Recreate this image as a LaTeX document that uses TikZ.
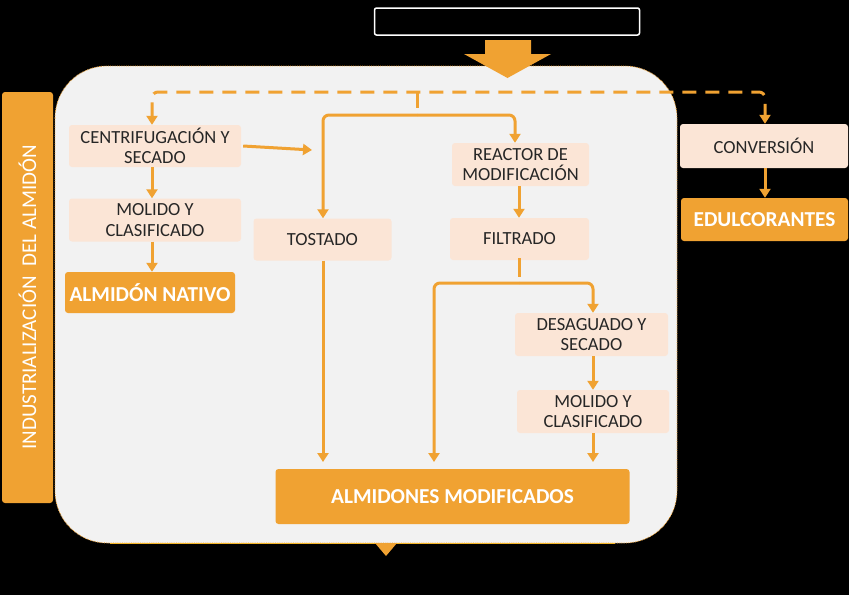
\documentclass[tikz,border=0pt]{standalone}
\usepackage{fontspec}
\setmainfont{Carlito}
\usetikzlibrary{arrows.meta}
\definecolor{orng}{HTML}{F0A232}
\definecolor{peach}{HTML}{FBE5D6}
\definecolor{panel}{HTML}{F2F2F2}
\tikzset{
  lbox/.style={fill=peach, rounded corners=3pt, inner sep=0pt, align=center, font=\fontsize{18.5}{20.5}\selectfont, text=black!85},
  obox/.style={fill=orng, rounded corners=3pt, inner sep=0pt, align=center, font=\fontsize{21.3}{24}\selectfont\bfseries, text=white},
  conn/.style={draw=orng, line width=3pt, -{Triangle[length=9pt,width=11pt]}},
  plain/.style={draw=orng, line width=3pt},
}
\begin{document}
\begin{tikzpicture}[x=1pt,y=-1pt]
\fill[black] (0,0) rectangle (849,595);
\useasboundingbox (0,0) rectangle (849,595);
% panel
\draw[fill=panel, draw=orng, densely dotted, line width=0.8pt, rounded corners=52pt] (55,66) rectangle (677,543);
\draw[orng!80!yellow, line width=1pt] (110,543) -- (615,543);
% left bar
\node[fill=orng, rounded corners=3pt, minimum width=51pt, minimum height=411pt, inner sep=0pt] (bar) at (27.5,297.5) {};
\node[rotate=90, text=white, font=\fontsize{21}{24}\selectfont] (bartext) at (bar.center) {INDUSTRIALIZACIÓN\ \ DEL ALMIDÓN};
% title box
\node[draw=white, line width=1.5pt, fill=black, rounded corners=2pt, minimum width=265pt, minimum height=27pt, inner sep=0pt] (title) at (507,21.5) {};
% top block arrow
\fill[orng] (485,40) -- (531,40) -- (531,54) -- (551,54) -- (507.5,78) -- (464,54) -- (485,54) -- cycle;
% bottom small triangle
\fill[orng] (375,543) -- (397,543) -- (386,556) -- cycle;
% boxes
\node[lbox, minimum width=172pt, minimum height=42pt] (centri) at (155,146) {CENTRIFUGACIÓN Y\\SECADO};
\node[lbox, minimum width=172pt, minimum height=43pt] (molA) at (155,220) {MOLIDO Y\\CLASIFICADO};
\node[obox, minimum width=170pt, minimum height=41pt] (nativo) at (150,292.5) {ALMIDÓN NATIVO};
\node[lbox, minimum width=138pt, minimum height=42pt] (tostado) at (322.5,239.5) {TOSTADO};
\node[lbox, minimum width=137pt, minimum height=43pt] (reactor) at (520.5,164.5) {REACTOR DE\\MODIFICACIÓN};
\node[lbox, minimum width=139pt, minimum height=42pt] (filtrado) at (519.5,239) {FILTRADO};
\node[lbox, minimum width=168pt, minimum height=44pt] (conv) at (764,146) {CONVERSIÓN};
\node[obox, minimum width=167pt, minimum height=43pt] (edul) at (764.5,219.5) {EDULCORANTES};
\node[lbox, minimum width=153pt, minimum height=43pt] (desag) at (591.5,334.5) {DESAGUADO Y\\SECADO};
\node[lbox, minimum width=152pt, minimum height=43pt] (molB) at (593,411.5) {MOLIDO Y\\CLASIFICADO};
\node[obox, minimum width=354pt, minimum height=55pt] (modif) at (452.5,496.5) {ALMIDONES MODIFICADOS};
% helper coordinates
\coordinate (cr) at (312,150);
\coordinate (stubtop) at (417,92);
\coordinate (stubbot) at (417,108);
\coordinate (split) at (417,115);
\coordinate (fstub) at (519,277);
\coordinate (split2) at (519,283);
% dashed feed line
\draw[orng, line width=3pt, dash pattern=on 14pt off 9pt, rounded corners=6pt, {Triangle[length=9pt,width=11pt]}-{Triangle[length=9pt,width=11pt]}]
  (centri.north -| 152,0) -- (152,92) -- (765,92) -- (conv.north -| 765,0);
\draw[plain] (stubtop) -- (stubbot);
% connectors
\draw[conn] (centri.south -| 152,0) -- (molA.north -| 152,0);
\draw[conn] (molA.south -| 152,0) -- (nativo.north -| 152,0);
\draw[conn] ([xshift=2pt]centri.east) -- (cr);
\draw[conn, rounded corners=6pt] (split) -- (515,115) -- (reactor.north -| 515,0);
\draw[conn, rounded corners=6pt] (split) -- (323,115) -- (tostado.north -| 323,0);
\draw[conn] (tostado.south -| 323,0) -- (323,462);
\draw[conn] (reactor.south -| 519,0) -- (filtrado.north -| 519,0);
\draw[plain] ([yshift=2pt]filtrado.south -| 519,0) -- (fstub);
\draw[conn, rounded corners=6pt] (split2) -- (593,283) -- (desag.north -| 593,0);
\draw[conn, rounded corners=6pt] (split2) -- (434,283) -- (434,462);
\draw[conn] (desag.south -| 593,0) -- (molB.north -| 593,0);
\draw[conn] (molB.south -| 593,0) -- (593,462);
\draw[conn] (conv.south -| 765,0) -- (edul.north -| 765,0);
\end{tikzpicture}
\end{document}
